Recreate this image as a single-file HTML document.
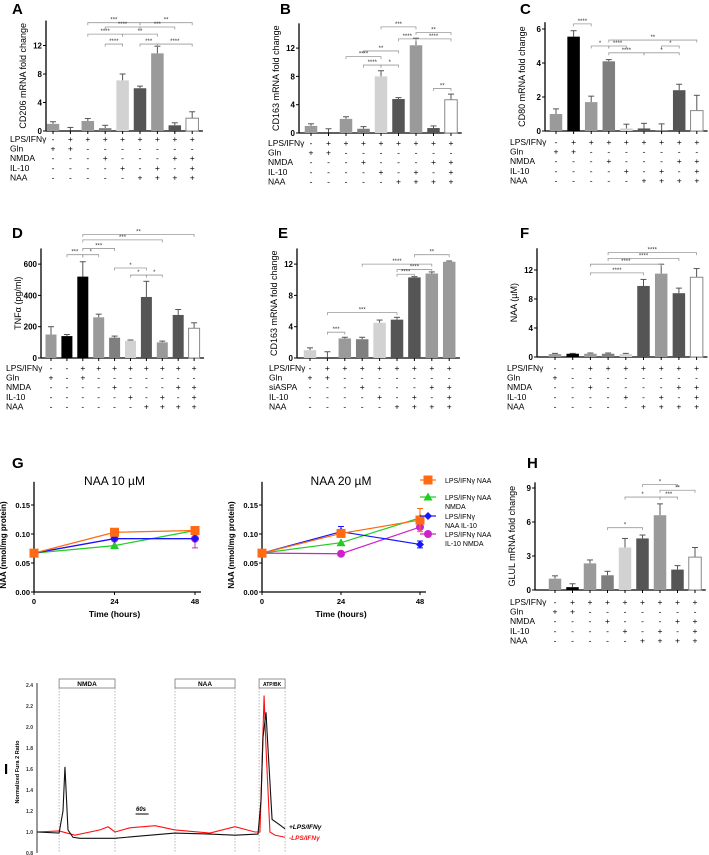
<!DOCTYPE html>
<html><head><meta charset="utf-8"><style>
body{margin:0;background:#fff;width:709px;height:855px;overflow:hidden}
svg{display:block;font-family:"Liberation Sans",sans-serif}
</style></head><body>
<svg id="fig" width="709" height="855" viewBox="0 0 709 855"></svg>
<script>
// ---------- DATA ----------
const rowNamesStd = ["LPS/IFNγ","Gln","NMDA","IL-10","NAA"];
const signsStd = ["-++++++++","++-------","---+---++","----+-+-+","-----++++"];
const colorsStd = ["#9a9a9a","#000","#9a9a9a","#7f7f7f","#d2d2d2","#555","#9a9a9a","#555","#fff"];

const aValues = [1.0,0.05,1.4,0.4,7.1,6.0,10.9,0.8,1.8];
const aErrors = [0.3,0.45,0.35,0.4,0.9,0.3,1.0,0.35,0.9];
const aTicks = [0,4,8,12];
const aBrackets = [[2,5,15.2,"***"],[5,8,15.2,"**"],[3,5,14.6,"****"],[5,7,14.6,"***"],[2,4,13.6,"****"],[4,6,13.6,"**"],[3,4,12.2,"****"],[5,6,12.2,"***"],[6,8,12.2,"****"]];

const bValues = [1.0,0.05,2.0,0.6,8.0,4.8,12.4,0.7,4.7];
const bErrors = [0.3,0.55,0.3,0.3,0.8,0.2,1.0,0.3,0.8];
const bTicks = [0,4,8,12];
const bBrackets = [[4,6,15.0,"***"],[6,8,14.2,"**"],[5,6,13.3,"****"],[6,8,13.3,"****"],[3,5,11.6,"**"],[2,4,10.8,"****"],[3,4,9.6,"****"],[4,5,9.6,"*"],[7,8,6.3,"**"]];

const cValues = [1.0,5.55,1.7,4.1,0.15,0.15,0.02,2.4,1.2];
const cErrors = [0.3,0.35,0.35,0.1,0.25,0.3,0.4,0.35,0.9];
const cTicks = [0,2,4,6];
const cBrackets = [[1,2,6.3,"****"],[3,8,5.35,"**"],[2,3,5.0,"*"],[3,4,5.0,"****"],[6,7,5.0,"*"],[3,5,4.6,"****"],[5,7,4.6,"*"]];

const dColors = ["#9a9a9a","#000","#000","#9a9a9a","#7f7f7f","#d2d2d2","#555","#9a9a9a","#555","#fff"];
const dSigns = ["--++++++++","+-+-------","----+---++","-----+-+-+","------++++"];
const dValues = [150,140,520,260,130,110,390,100,275,190];
const dErrors = [50,10,95,20,10,5,100,8,35,35];
const dTicks = [0,200,400,600];
const dBrackets = [[2,9,790,"**"],[2,7,755,"***"],[2,4,700,"***"],[1,2,660,"***"],[2,3,660,"*"],[4,6,575,"*"],[5,6,530,"*"],[6,7,530,"*"]];

const eRowNames = ["LPS/IFNγ","Gln","siASPA","IL-10","NAA"];
const eColors = ["#cfcfcf","#9a9a9a","#9a9a9a","#7f7f7f","#d2d2d2","#555","#555","#9a9a9a","#9a9a9a"];
const eValues = [1.0,0.0,2.5,2.4,4.5,4.9,10.3,10.8,12.3];
const eErrors = [0.3,0.8,0.15,0.25,0.35,0.3,0.1,0.2,0.1];
const eTicks = [0,4,8,12];
const eBrackets = [[6,8,13.2,"**"],[3,7,12.0,"****"],[5,7,11.3,"****"],[5,6,10.7,"****"],[1,5,5.8,"***"],[1,2,3.3,"***"]];

const fSigns = ["--+++++++","+--------","--+----++","----+-+-+","-----++++"];
const fColors = ["#9a9a9a","#000","#9a9a9a","#7f7f7f","#d2d2d2","#555","#9a9a9a","#555","#fff"];
const fValues = [0.4,0.45,0.45,0.45,0.4,9.8,11.5,8.8,11.0];
const fErrors = [0.1,0.05,0.1,0.1,0.1,0.9,1.3,0.7,1.2];
const fTicks = [0,4,8,12];
const fBrackets = [[3,8,14.4,"****"],[3,7,13.6,"****"],[2,6,12.8,"****"],[2,5,11.6,"****"]];

const hValues = [1.0,0.25,2.35,1.3,3.75,4.55,6.6,1.8,2.9];
const hErrors = [0.25,0.3,0.3,0.35,0.8,0.3,1.0,0.35,0.85];
const hTicks = [0,3,6,9];
const hBrackets = [[5,7,9.3,"*"],[6,8,8.8,"**"],[4,6,8.2,"*"],[6,7,8.2,"***"],[3,5,5.5,"*"]];

const gTimes = [0,24,48];
const g10Orange = [0.067,0.103,0.106];
const g10Green = [0.067,0.080,0.106];
const g10Blue = [0.067,0.092,0.092];
const g10Magenta = [0.067,0.092,0.092];
const g10MagentaErr = [0,0,0.016];
const g20Orange = [0.067,0.101,0.124];
const g20OrangeErr = [0,0.005,0.02];
const g20Green = [0.067,0.085,0.128];
const g20Blue = [0.067,0.104,0.082];
const g20BlueErr = [0,0.009,0.006];
const g20Magenta = [0.067,0.066,0.112];
const gTicks = [0,0.05,0.10,0.15];
const gTickLabels = ["0.00","0.05","0.10","0.15"];
const gLegend = ["LPS/IFNγ NAA","LPS/IFNγ NAA|NMDA","LPS/IFNγ|NAA IL-10","LPS/IFNγ NAA|IL-10  NMDA"];

const iBlackT = [0,102,120,129,143,166,198,360,522,637,798,914,1020,1034,1043,1057,1066,1085,1112,1145];
const iBlackV = [1.0,0.99,1.2,1.62,1.02,0.95,0.94,0.94,0.97,0.99,0.98,0.97,0.98,1.3,1.9,2.14,1.8,1.12,1.08,1.03];
const iRedT = [0,102,175,291,328,360,429,545,637,798,914,1006,1029,1038,1048,1057,1075,1098,1145];
const iRedV = [1.0,1.01,0.97,1.02,1.05,1.0,1.04,1.06,1.02,0.99,1.05,1.0,1.0,1.6,2.3,1.8,1.0,0.97,0.95];
const iTicks = [0.8,1.0,1.2,1.4,1.6,1.8,2.0,2.2,2.4];
const iStimuli = [["NMDA",102,360],["NAA",637,914],["ATP/BK",1025,1145]];

// ---------- HELPERS ----------
const NS="http://www.w3.org/2000/svg";
const svg=document.getElementById('fig');
function el(tag,attrs,parent,text){const e=document.createElementNS(NS,tag);for(const k in attrs)e.setAttribute(k,attrs[k]);if(text!==undefined)e.textContent=text;(parent||svg).appendChild(e);return e;}
function fmt(v){return String(v);}

function barPanel(o){
  const g=el('g',{});
  
  
  const y=v=>o.base-(v/o.unit)*o.unitPx;
  const bx=i=>o.x0+i*o.step;
  const lt=el('text',{x:o.letterX,y:o.letterY,'font-size':15,'font-weight':'bold'},g,o.id);
  
  el('line',{x1:o.axisX,y1:y(o.top),x2:o.axisX,y2:o.base,stroke:'#000','stroke-width':1.3},g);
  el('line',{x1:o.axisX,y1:o.base,x2:bx(o.values.length-1)+o.step/2+2,y2:o.base,stroke:'#000','stroke-width':1.3},g);
  o.ticks.forEach(t=>{
    el('line',{x1:o.axisX-3,y1:y(t),x2:o.axisX,y2:y(t),stroke:'#000','stroke-width':1},g);
    const tl=el('text',{x:o.axisX-4,y:y(t)+3,'font-size':8,'font-weight':'bold','text-anchor':'end'},g,fmt(t));
    
  });
  const yt=el('text',{x:0,y:0,'font-size':9,'text-anchor':'middle',transform:`translate(${o.axisX-20},${(o.base+y(o.top))/2}) rotate(-90)`},g,o.ylabel);
  
  o.values.forEach((v,i)=>{
    const cx=bx(i),w=o.bw;
    const e=o.errors[i];
    el('line',{x1:cx,y1:y(v),x2:cx,y2:y(v+e),stroke:'#555','stroke-width':1},g);
    el('line',{x1:cx-3,y1:y(v+e),x2:cx+3,y2:y(v+e),stroke:'#555','stroke-width':1},g);
    const r=el('rect',{x:cx-w/2,y:y(v),width:w,height:Math.max(0,o.base-y(v)),fill:o.colors[i],stroke:o.colors[i]==='#fff'?'#888':'none','stroke-width':1},g);
    
    el('line',{x1:cx,y1:o.base,x2:cx,y2:o.base+3,stroke:'#000','stroke-width':1},g);
  });
  o.brackets.forEach(b=>{
    const x1=bx(b[0]),x2=bx(b[1]),yy=y(b[2]);
    el('path',{d:`M${x1},${yy+2.5}V${yy}H${x2}V${yy+2.5}`,fill:'none',stroke:'#999','stroke-width':0.8},g);
    const s=el('text',{x:(x1+x2)/2,y:yy-1,'font-size':6,'text-anchor':'middle',fill:'#333'},g,b[3]);
    
  });
  o.rowNames.forEach((n,r)=>{
    const ry=o.rowY+r*o.rowStep;
    const t=el('text',{x:o.labelX,y:ry,'font-size':8.5},g,n);
    
    o.signs[r].split('').forEach((s,i)=>{
      el('text',{x:bx(i),y:ry,'font-size':8.5,'text-anchor':'middle'},g,s);
    });
  });
}

const common={rowNames:rowNamesStd,signs:signsStd,colors:colorsStd,bw:12.5};
barPanel(Object.assign({},common,{id:'A',letterX:12,letterY:14,axisX:46,base:131,unit:4,unitPx:28.5,top:15.5,x0:53,step:17.4,values:aValues,errors:aErrors,ticks:aTicks,brackets:aBrackets,ylabel:'CD206 mRNA fold change',labelX:10,rowY:142,rowStep:9.6}));
barPanel(Object.assign({},common,{id:'B',letterX:280,letterY:14,axisX:299,base:133,unit:4,unitPx:28.3,top:15.5,x0:311,step:17.5,values:bValues,errors:bErrors,ticks:bTicks,brackets:bBrackets,ylabel:'CD163 mRNA fold change',labelX:268,rowY:146,rowStep:9.6}));
barPanel(Object.assign({},common,{id:'C',letterX:520,letterY:14,axisX:545,base:131,unit:2,unitPx:34,top:6.4,x0:556,step:17.6,values:cValues,errors:cErrors,ticks:cTicks,brackets:cBrackets,ylabel:'CD80 mRNA fold change',labelX:510,rowY:145,rowStep:9.6}));
barPanel(Object.assign({},common,{id:'D',colors:dColors,signs:dSigns,bw:11,letterX:12,letterY:238,axisX:41,base:358,unit:200,unitPx:31.3,top:700,x0:51,step:15.9,values:dValues,errors:dErrors,ticks:dTicks,brackets:dBrackets,ylabel:'TNFα (pg/ml)',labelX:6,rowY:371,rowStep:9.6}));
barPanel(Object.assign({},common,{id:'E',rowNames:eRowNames,colors:eColors,letterX:278,letterY:238,axisX:297,base:358,unit:4,unitPx:31.3,top:14,x0:310,step:17.4,values:eValues,errors:eErrors,ticks:eTicks,brackets:eBrackets,ylabel:'CD163 mRNA fold change',labelX:269,rowY:371,rowStep:9.6}));
barPanel(Object.assign({},common,{id:'F',signs:fSigns,colors:fColors,letterX:520,letterY:238,axisX:537,base:357,unit:4,unitPx:29,top:15,x0:555,step:17.7,values:fValues,errors:fErrors,ticks:fTicks,brackets:fBrackets,ylabel:'NAA (µM)',labelX:507,rowY:371,rowStep:9.6}));
barPanel(Object.assign({},common,{id:'H',letterX:527,letterY:468,axisX:535,base:590,unit:3,unitPx:34,top:9.5,x0:555,step:17.5,values:hValues,errors:hErrors,ticks:hTicks,brackets:hBrackets,ylabel:'GLUL mRNA fold change',labelX:510,rowY:605,rowStep:9.6}));

// ---------- G ----------
function linePlot(id,x0,x1,title,series){
  const g=el('g',{});
  
  const base=592,py=29/0.05;
  const X=t=>x0+(t/48)*(x1-x0), Y=v=>base-v*py;
  el('line',{x1:x0,y1:Y(0.19),x2:x0,y2:base,stroke:'#000','stroke-width':1.3},g);
  el('line',{x1:x0,y1:base,x2:x1+6,y2:base,stroke:'#000','stroke-width':1.3},g);
  gTicks.forEach((t,k)=>{
    el('line',{x1:x0-3,y1:Y(t),x2:x0,y2:Y(t),stroke:'#000'},g);
    el('text',{x:x0-4,y:Y(t)+3,'font-size':7.5,'font-weight':'bold','text-anchor':'end'},g,gTickLabels[k]);
  });
  gTimes.forEach(t=>{
    el('line',{x1:X(t),y1:base,x2:X(t),y2:base+3,stroke:'#000'},g);
    el('text',{x:X(t),y:base+12,'font-size':7.5,'font-weight':'bold','text-anchor':'middle'},g,t);
  });
  const xt=el('text',{x:(x0+x1)/2,y:617,'font-size':8.5,'font-weight':'bold','text-anchor':'middle'},g,'Time (hours)');
  
  const yt=el('text',{x:0,y:0,'font-size':8,'font-weight':'bold','text-anchor':'middle',transform:`translate(${x0-28},545) rotate(-90)`},g,'NAA (nmol/mg protein)');
  
  const tt=el('text',{x:(x0+x1)/2,y:485,'font-size':12,'text-anchor':'middle'},g,title);
  
  series.forEach(s=>{
    const p=el('polyline',{points:s.v.map((v,i)=>X(gTimes[i])+','+Y(v)).join(' '),fill:'none',stroke:s.c,'stroke-width':1.2},g);
    
    s.v.forEach((v,i)=>{
      const e=s.e?s.e[i]:0;
      if(e){el('path',{d:`M${X(gTimes[i])},${Y(v-e)}V${Y(v+e)}M${X(gTimes[i])-3},${Y(v-e)}h6M${X(gTimes[i])-3},${Y(v+e)}h6`,stroke:s.c,'stroke-width':1,fill:'none'},g);}
      marker(g,s.m,X(gTimes[i]),Y(v),s.c);
    });
  });
}
function marker(g,m,x,y,c){
  let e;
  if(m==='sq')e=el('rect',{x:x-4.5,y:y-4.5,width:9,height:9,fill:c},g);
  else if(m==='tri')e=el('polygon',{points:`${x},${y-4.5} ${x+4.5},${y+3.5} ${x-4.5},${y+3.5}`,fill:c},g);
  else if(m==='dia')e=el('polygon',{points:`${x},${y-4} ${x+4},${y} ${x},${y+4} ${x-4},${y}`,fill:c},g);
  else e=el('circle',{cx:x,cy:y,r:4,fill:c},g);
  
}
const OR='#ff6a13',GR='#22cc22',BL='#1515ff',MG='#cc22cc';
const gl=el('text',{x:12,y:468,'font-size':15,'font-weight':'bold'},svg,'G');

linePlot('naa-10',34,195,'NAA 10 µM',[
  {v:g10Green,c:GR,m:'tri'},{v:g10Magenta,c:MG,m:'ci',e:g10MagentaErr},{v:g10Blue,c:BL,m:'dia'},{v:g10Orange,c:OR,m:'sq'}]);
linePlot('naa-20',262,420,'NAA 20 µM',[
  {v:g20Green,c:GR,m:'tri'},{v:g20Magenta,c:MG,m:'ci'},{v:g20Blue,c:BL,m:'dia',e:g20BlueErr},{v:g20Orange,c:OR,m:'sq',e:g20OrangeErr}]);
const legMarks=[['sq',OR],['tri',GR],['dia',BL],['ci',MG]];
const legY=[480,497,516,534];
gLegend.forEach((lab,k)=>{
  const lg=el('g',{});
  
  el('line',{x1:420,y1:legY[k],x2:436,y2:legY[k],stroke:legMarks[k][1],'stroke-width':1.2},lg);
  marker(lg,legMarks[k][0],428,legY[k],legMarks[k][1]);
  lab.split('|').forEach((ln,j)=>el('text',{x:445,y:legY[k]+3+j*9,'font-size':7},lg,ln));
});

// ---------- I ----------
(function(){
  const g=el('g',{});
  
  const ax=37,X=t=>ax+t*13/60,Y=v=>853-(v-0.8)*105;
  const lt=el('text',{x:4,y:774,'font-size':15,'font-weight':'bold'},g,'I');
  
  el('line',{x1:ax,y1:683,x2:ax,y2:853,stroke:'#000','stroke-width':0.8},g);
  iTicks.forEach(t=>el('text',{x:ax-4,y:Y(t)+2,'font-size':5,'font-weight':'bold','text-anchor':'end',fill:'#333'},g,t.toFixed(1)));
  const yt=el('text',{x:0,y:0,'font-size':5.5,'font-weight':'bold','text-anchor':'middle',transform:`translate(19,772) rotate(-90)`},g,'Normalized Fura 2 Ratio');
  
  iStimuli.forEach(s=>{
    const x1=X(s[1]),x2=X(s[2]);
    const b=el('rect',{x:x1,y:679,width:x2-x1,height:9,fill:'#fff',stroke:'#777','stroke-width':0.8},g);
    
    el('text',{x:(x1+x2)/2,y:686,'font-size':s[0].length>4?5:6.5,'font-weight':'bold','text-anchor':'middle'},g,s[0]);
    [x1,x2].forEach(xx=>el('line',{x1:xx,y1:688,x2:xx,y2:853,stroke:'#999','stroke-width':0.7,'stroke-dasharray':'1.5,1.5'},g));
  });
  const red=el('polyline',{points:iRedT.map((t,i)=>X(t)+','+Y(iRedV[i])).join(' '),fill:'none',stroke:'#ff1010','stroke-width':1.1},g);
  
  const blk=el('polyline',{points:iBlackT.map((t,i)=>X(t)+','+Y(iBlackV[i])).join(' '),fill:'none',stroke:'#111','stroke-width':1.1},g);
  
  el('text',{x:141,y:811,'font-size':6,'font-weight':'bold','font-style':'italic','text-anchor':'middle'},g,'60s');
  el('line',{x1:X(455),y1:814,x2:X(515),y2:814,stroke:'#000','stroke-width':1},g);
  const l1=el('text',{x:289,y:829,'font-size':6.5,'font-weight':'bold','font-style':'italic'},g,'+LPS/IFNγ');
  
  const l2=el('text',{x:289,y:840,'font-size':6.5,'font-weight':'bold','font-style':'italic',fill:'#ff1010'},g,'-LPS/IFNγ');
  
})();
</script>
</body></html>
